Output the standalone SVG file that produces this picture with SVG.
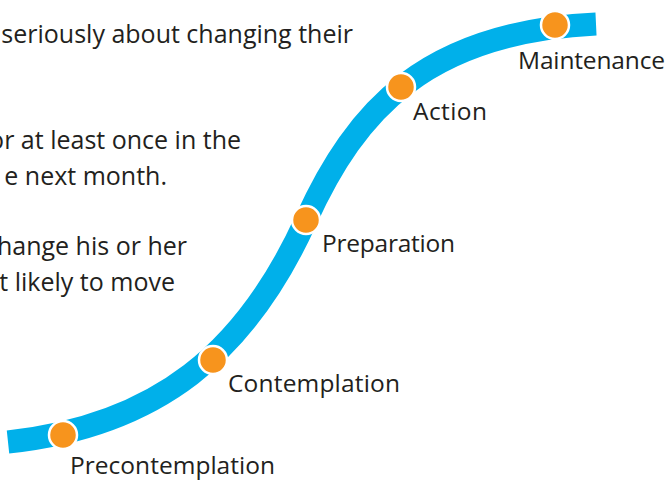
<svg xmlns="http://www.w3.org/2000/svg" width="670" height="480" viewBox="0 0 670 480">
<style>
.t{font-family:"Open Sans","Liberation Sans",sans-serif;font-size:24.5px;fill:#231F20}
.p{text-anchor:end;font-size:25px}
.dot{fill:#F7941D;stroke:#FFFFFF;stroke-width:2.5}
.track{fill:none;stroke:#00B0EA;stroke-width:23}
</style>
<rect width="670" height="480" fill="#FFFFFF"/>
<g id="description">
<text class="t p" x="353" y="43">seriously about changing their</text>
<text class="t p" x="241" y="149">or at least once in the</text>
<text class="t p" x="167" y="185">e next month.</text>
<text class="t p" x="187" y="255">hange his or her</text>
<text class="t p" x="175" y="291">t likely to move</text>
</g>
<g id="connectors">
<path class="track" d="M8,442 C158,426 246,352 306,220 C356,110 426,32 596,24"/>
</g>
<g id="precontemplation">
<circle class="dot" cx="63" cy="435" r="14"/>
<text class="t" x="70" y="474" textLength="205">Precontemplation</text>
</g>
<g id="contemplation">
<circle class="dot" cx="213" cy="360" r="14"/>
<text class="t" x="228" y="392" textLength="172">Contemplation</text>
</g>
<g id="preparation">
<circle class="dot" cx="306" cy="220" r="14"/>
<text class="t" x="322" y="252" textLength="133">Preparation</text>
</g>
<g id="action">
<circle class="dot" cx="401" cy="87" r="14"/>
<text class="t" x="413" y="120" textLength="74">Action</text>
</g>
<g id="maintenance">
<circle class="dot" cx="555" cy="25" r="14"/>
<text class="t" x="518" y="69" textLength="147">Maintenance</text>
</g>
</svg>
